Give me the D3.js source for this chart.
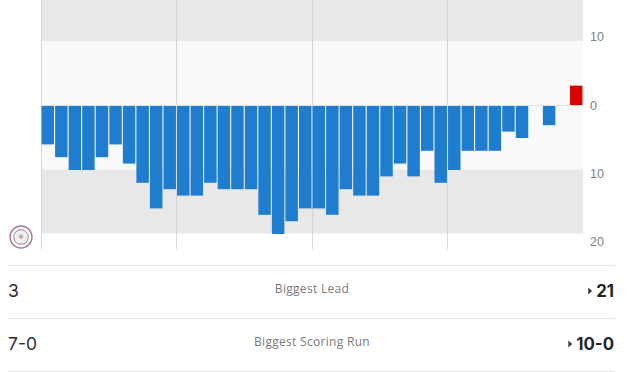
<!DOCTYPE html>
<html><head><meta charset="utf-8">
<style>html,body{margin:0;padding:0;background:#fff;overflow:hidden}svg{display:block}</style>
<script src="https://cdn.jsdelivr.net/npm/d3@7/dist/d3.min.js"></script>
</head><body><svg id="c" width="627" height="372"></svg>
<script>
const margins = [6,8,10,10,8,6,9,12,16,13,14,14,12,13,13,13,17,20,18,16,16,17,13,14,14,11,9,11,7,12,10,7,7,7,4,5,0,3,0,-3];
const periods = [0,1,2,3];
const yTicks = [-10,0,10,20];
const bands = [{from:-20,to:-10,c:"#e8e8e8"},{from:-10,to:10,c:"#f9f9f9"},{from:10,to:20,c:"#e8e8e8"}];
const statLabels = ["Biggest Lead","Biggest Scoring Run"];
const leftStats = ["3","7-0"];
const rightStats = ["21","10-0"];

const L=41, R=583;
const svg=d3.select("#c");
const x=d3.scaleBand().domain(d3.range(margins.length)).range([L,R]).paddingInner(0.08).paddingOuter(0.04);
const xq=d3.scaleLinear().domain([0,4]).range([L,R]);
const y=d3.scaleLinear().domain([-10,0,20]).range([41,105.5,233.5]);
const yl=d3.scaleLinear().domain([-10,20]).range([37,242]);

svg.selectAll("rect.band").data(bands).join("rect").attr("class","band")
 .attr("x",L).attr("width",R-L)
 .attr("y",d=>d.from===-20?0:y(d.from))
 .attr("height",d=>d.from===-20?y(d.to):y(d.to)-y(d.from))
 .attr("fill",d=>d.c);
svg.selectAll("line.q").data(periods).join("line").attr("class","q")
 .attr("x1",d=>Math.floor(xq(d))+.5).attr("x2",d=>Math.floor(xq(d))+.5)
 .attr("y1",0).attr("y2",249).attr("stroke","#d6d6d6");
svg.append("line").attr("x1",L).attr("x2",R).attr("y1",y(0)).attr("y2",y(0)).attr("stroke","#dfdfdf");
svg.selectAll("rect.bar").data(margins).join("rect").attr("class","bar")
 .attr("x",(d,i)=>x(i)).attr("width",x.bandwidth())
 .attr("y",d=>d<0?y(d)-.5:y(0)+.5)
 .attr("height",d=>Math.abs(y(d)-y(0)))
 .attr("fill",d=>d<0?"#d90000":"#1f7dcf");
svg.selectAll("text.yt").data(yTicks).join("text").attr("class","yt")
 .attr("x",590).attr("y",d=>yl(d)).attr("dy","0.35em")
 .attr("font-family","Liberation Sans").attr("font-size",12.5).attr("fill","#808080")
 .text(d=>Math.abs(d));
const g=svg.append("g").attr("transform","translate(21,237)");
g.append("circle").attr("r",11).attr("fill","#fff").attr("stroke","#a8759d").attr("stroke-width",1.4);
g.append("path").attr("d",d3.line().curve(d3.curveCatmullRomClosed)(d3.range(5).map(i=>{const a=-Math.PI/2+i*2*Math.PI/5;return [7.5*Math.cos(a),7.5*Math.sin(a)];})))
 .attr("fill","#f0eeee").attr("stroke","#8f8f8f").attr("stroke-width",1);
g.append("circle").attr("r",2.2).attr("cy",-.5).attr("fill","#b8b0b4");
const rowY=d3.scaleLinear().domain([0,1]).range([265.5,318.5]);
svg.selectAll("line.r").data([0,1,2]).join("line").attr("class","r")
 .attr("x1",8).attr("x2",615).attr("y1",d=>rowY(d)).attr("y2",d=>rowY(d)).attr("stroke","#e6e6e6");
const F="Inter, Lato, sans-serif";
statLabels.forEach((s,i)=>{
 const cy=rowY(i)+25.5;
 svg.append("text").attr("x",8).attr("y",cy).attr("dy","0.36em").attr("font-family",F).attr("font-size",17.5).attr("fill","#2b2c30").text(leftStats[i]);
 svg.append("text").attr("x",312).attr("y",cy-2.5).attr("dy","0.36em").attr("text-anchor","middle").attr("font-family","Open Sans").attr("font-size",12).attr("letter-spacing",0.3).attr("fill","#7a7a7a").text(s);
 const t=svg.append("text").attr("x",614).attr("y",cy).attr("dy","0.36em").attr("text-anchor","end").attr("font-family",F).attr("font-weight",700).attr("font-size",16.8).attr("fill","#23252a").text(rightStats[i]);
 const w=t.node().getComputedTextLength();
 const tx=614-w-4;
 svg.append("path").attr("d",`M${tx-4},${cy-3.5}L${tx},${cy}L${tx-4},${cy+3.5}Z`).attr("fill","#3a3a3a");
});
</script></body></html>
